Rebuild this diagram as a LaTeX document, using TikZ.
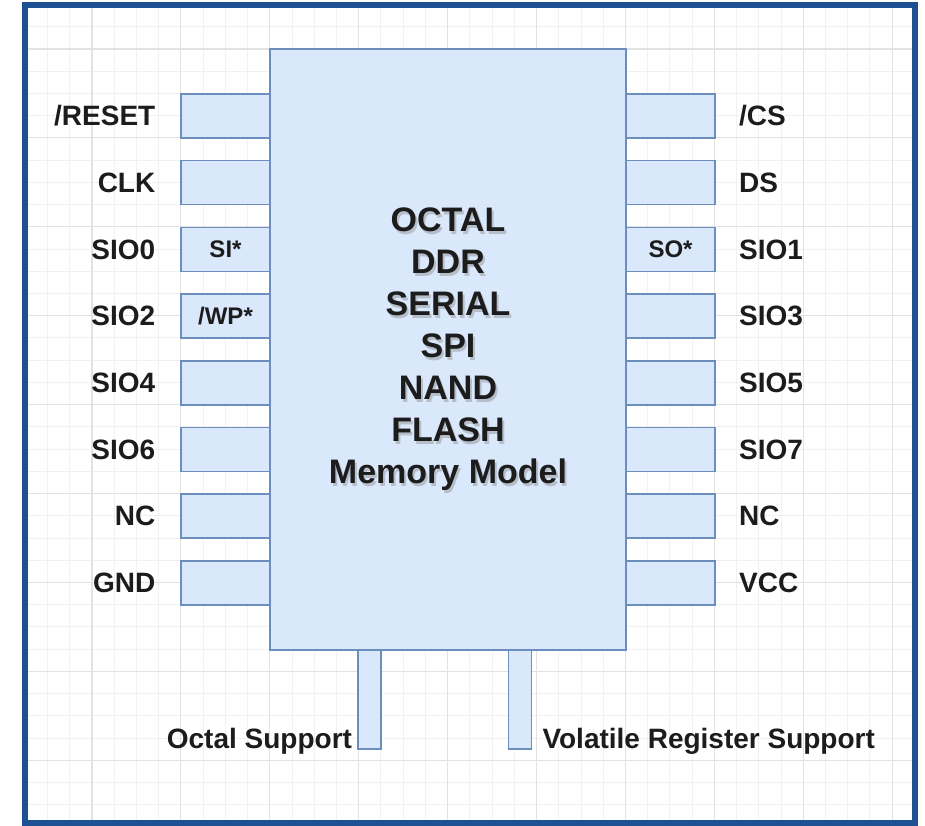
\documentclass[tikz,border=0pt]{standalone}
\usepackage{fontspec}
\setmainfont{Liberation Sans}
\usepackage{tikz}
\usetikzlibrary{positioning,calc}
\definecolor{chipfill}{HTML}{DAE8FC}
\definecolor{chipline}{HTML}{6C8EBF}
\definecolor{framec}{HTML}{1D5192}
\definecolor{majgrid}{HTML}{E2E2E2}
\definecolor{mingrid}{HTML}{F1F1F1}
\definecolor{txtc}{HTML}{1C1C1C}
\tikzset{
  chip/.style={draw=chipline,line width=1.6pt,fill=chipfill,minimum width=356pt,minimum height=601pt,inner sep=0pt},
  pinbox/.style={draw=chipline,line width=1.6pt,fill=chipfill,minimum width=89pt,minimum height=44pt,inner sep=0pt},
  legbox/.style={pinbox,minimum width=23pt,minimum height=99pt},
  pinlbl/.style={font=\fontsize{28}{30}\selectfont\bfseries,text=txtc,inner sep=0pt},
  innerlbl/.style={font=\fontsize{24}{26}\selectfont\bfseries,text=txtc,inner sep=0pt},
  titletxt/.style={font=\fontsize{34}{42}\selectfont\bfseries,text=txtc,align=center,inner sep=0pt},
  mingridln/.style={draw=mingrid,line width=0.9pt},
  majgridln/.style={draw=majgrid,line width=1.1pt},
  frame/.style={draw=framec,line width=6pt},
}
% one column of pins: name, x of box, labels, label offset, label anchor
\newcommand{\pinrow}[5]{%
  \foreach \lbl [count=\k from 0] in {#3} {
    \node[pinbox] (#1-\k) at (#2,{116+66.7*\k}) {};
    \node[pinlbl,anchor=#5] (#1l-\k) at ($(#1-\k)+(#4,0)$) {\lbl};}}

\begin{document}
\begin{tikzpicture}[x=1pt,y=-1pt]
  \useasboundingbox (0,0) rectangle (925,826);
  % background grid
  \foreach \k in {2,...,40}
    \draw[mingridln] ({3.1+22.225*\k},8) -- ({3.1+22.225*\k},823);
  \foreach \k in {-1,...,34}
    \draw[mingridln] (28,{49+22.225*\k}) -- (912,{49+22.225*\k});
  \foreach \k in {1,...,10}
    \draw[majgridln] ({3.1+88.9*\k},8) -- ({3.1+88.9*\k},823);
  \foreach \k in {0,...,8}
    \draw[majgridln] (28,{49+88.9*\k}) -- (912,{49+88.9*\k});
  \draw[frame] (25,5) rectangle (915,823);

  % pins
  \pinrow{lp}{225.5}{/RESET,CLK,SIO0,SIO2,SIO4,SIO6,NC,GND}{-70}{east}
  \pinrow{rp}{670.5}{/CS,DS,SIO1,SIO3,SIO5,SIO7,NC,VCC}{68.5}{west}
  \node[innerlbl] (si) at (lp-2) {SI*};
  \node[innerlbl] (wp) at (lp-3) {/WP*};
  \node[innerlbl] (so) at (rp-2) {SO*};

  \node[legbox] (octleg) at (369.5,699.5) {};
  \node[legbox] (volleg) at (520,699.5) {};
  \node[chip] (chip) at (448,349.5) {};

  % title with its soft shadow
  \node[titletxt,text=black!45,opacity=.45] (titleshd) at ([xshift=2pt,yshift=-3pt]chip.center)
    {OCTAL\\DDR\\SERIAL\\SPI\\NAND\\FLASH\\Memory Model};
  \node[titletxt] (title) at (chip.center)
    {OCTAL\\DDR\\SERIAL\\SPI\\NAND\\FLASH\\Memory Model};

  \node[pinlbl,anchor=base east] (octlbl) at ([xshift=-5pt,yshift=1pt]octleg.south west) {Octal Support};
  \node[pinlbl,anchor=base west] (vollbl) at ([xshift=10pt,yshift=1pt]volleg.south east) {Volatile Register Support};
\end{tikzpicture}
\end{document}
